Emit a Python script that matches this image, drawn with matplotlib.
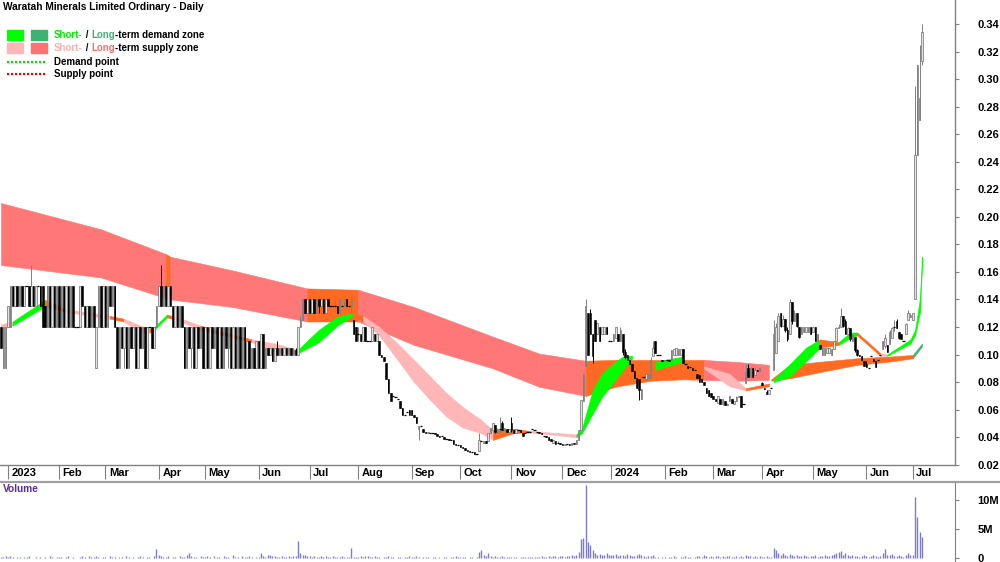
import numpy as np
import matplotlib
matplotlib.use('Agg')
import matplotlib.pyplot as plt
import matplotlib.transforms as mtransforms
from matplotlib.lines import Line2D
from matplotlib.patches import Rectangle

plt.rcParams['font.family'] = ['Liberation Sans', 'DejaVu Sans']

# ---- daily candles, (open, high, low, close) in cents, one list per month ----
dec22 = [(12, 12, 10.5, 10.5), (9, 12, 9, 12), (9, 12, 9, 12)]
jan23 = [(12, 13.5, 12, 13.5), (12, 15, 12, 15), (15, 15, 13.5, 13.5), (13.5, 15, 13.5, 15), (15, 15, 13.5, 13.5),
         (13.5, 15, 13.5, 15), (15, 15, 13.5, 13.5), (13.5, 15, 13.5, 15), (15, 15, 15, 15), (15, 15, 13.5, 13.5),
         (13.5, 16.5, 13.5, 15), (15, 15, 13.5, 13.5), (13.5, 15, 13.5, 15), (15, 15, 15, 15), (15, 15, 13.5, 13.5),
         (15, 15, 12, 12), (13.5, 13.5, 12, 12), (12, 15, 12, 15), (15, 15, 12, 12), (12, 15, 12, 15),
         (15, 15, 12, 12), (12, 15, 12, 15)]
feb23 = [(15, 15, 12, 12), (12, 15, 12, 15), (15, 15, 12, 12), (12, 15, 12, 15), (15, 15, 12, 12),
         (12, 15, 12, 15), (15, 15, 12, 12), (12, 12, 12, 12), (12, 12, 12, 12), (12, 15, 12, 15),
         (15, 15, 13.5, 13.5), (13.5, 13.5, 12, 12), (12, 13.5, 12, 13.5), (13.5, 13.5, 12, 12), (12, 13.5, 12, 13.5),
         (13.5, 13.5, 12, 12), (9, 12, 9, 12), (12, 15, 12, 15), (15, 15, 12, 12), (12, 15, 12, 15)]
mar23 = [(15, 15, 12, 12), (12, 15, 12, 15), (15, 15, 13.5, 13.5), (13.5, 15, 13.5, 15), (15, 15, 12, 12),
         (12, 12, 9, 9), (9, 12, 9, 12), (12, 12, 10.5, 10.5), (10.5, 12, 9, 12), (12, 12, 9, 9),
         (9, 12, 9, 12), (12, 12, 10.5, 10.5), (10.5, 12, 10.5, 12), (12, 12, 9, 9), (9, 12, 9, 12),
         (12, 12, 10.5, 10.5), (10.5, 12, 10.5, 12), (12, 12, 9, 9), (9, 12, 9, 12), (12, 12, 12, 12),
         (12, 12, 10.5, 10.5), (10.5, 12, 10.5, 12), (12, 13.5, 12, 13.5)]
apr23 = [(13.5, 15, 13.5, 15), (15, 16.5, 13.5, 13.5), (13.5, 15, 13.5, 15), (15, 15, 13.5, 13.5), (13.5, 15, 13.5, 15),
         (15, 15, 13.5, 13.5), (13.5, 13.5, 12, 12), (12, 13.5, 12, 13.5), (13.5, 13.5, 12, 12), (12, 13.5, 12, 13.5),
         (13.5, 13.5, 12, 12), (12, 12, 9, 9), (9, 12, 9, 12), (12, 12, 10.5, 10.5), (10.5, 12, 9, 12),
         (12, 12, 9, 9), (9, 12, 9, 12), (12, 12, 10.5, 10.5), (10.5, 12, 10.5, 12), (12, 12, 9, 9)]
may23 = [(9, 12, 9, 12), (12, 12, 9, 9), (9, 12, 9, 12), (12, 12, 10.5, 10.5), (10.5, 12, 10.5, 12),
         (12, 12, 9, 9), (9, 12, 9, 12), (12, 12, 9, 9), (9, 12, 9, 12), (12, 12, 10.5, 10.5),
         (10.5, 12, 9, 12), (12, 12, 9, 9), (9, 12, 9, 12), (12, 12, 9, 9), (9, 12, 9, 12),
         (12, 12, 9, 9), (9, 12, 9, 12), (12, 12, 9, 9), (9, 11, 9, 11), (11, 11, 9, 9),
         (9, 10.5, 9, 10.5), (10.5, 10.5, 9, 9), (9, 11, 9, 11)]
jun23 = [(11, 11, 9, 9), (9, 11.5, 9, 11.5), (11.5, 11.5, 9, 9), (9, 10.5, 9, 10.5), (10.5, 10.5, 10, 10),
         (10, 10.5, 10, 10.5), (10.5, 10.5, 9.5, 9.5), (9.5, 10.5, 9.5, 10.5), (10.5, 11, 10, 10), (10, 10.5, 10, 10.5),
         (10.5, 10.5, 10, 10), (10, 10.5, 10, 10.5), (10.5, 10.5, 10, 10), (10, 10.5, 10, 10.5), (10.5, 10.5, 10, 10),
         (10, 10.5, 10, 10.3), (10.3, 10.5, 10, 10), (10, 12, 10, 12), (12, 12.8, 12, 12.5), (12.5, 14, 12.5, 14),
         (14, 14, 13, 13), (13, 14, 13, 14)]
jul23 = [(14, 14, 13, 13), (13, 14, 13, 14), (14, 14, 13, 13), (13, 14, 13, 14), (14, 14, 13, 13.5),
         (13.5, 14, 13, 14), (14, 14, 13, 13), (13, 14, 13, 14), (14, 14, 13.5, 13.5), (13.5, 13.5, 13.5, 13.5),
         (13.5, 13.5, 13.5, 13.5), (13.5, 14, 13.5, 13.5), (13.5, 13.5, 13, 13), (13, 14, 13, 14), (13.5, 13.5, 13.5, 13.5),
         (13.5, 14, 13.5, 14), (14, 14, 13.5, 13.5), (13.5, 13.5, 13.5, 13.5), (13.5, 14, 13, 14), (12.5, 12.5, 11.5, 11.5),
         (12, 12, 11, 11)]
aug23 = [(11.5, 12, 11, 11.5), (11.5, 11.5, 11, 11), (11, 12, 11, 12), (12, 12, 11, 11), (11, 11, 11, 11),
         (11, 11, 11, 11), (11, 12, 11, 12), (11.5, 11.5, 11, 11), (11, 11.5, 11, 11.5), (11, 11, 10, 10),
         (10, 10, 9.8, 9.8), (9.8, 9.8, 9.5, 9.5), (9.4, 9.4, 8.2, 8.2), (8.2, 8.2, 7.2, 7.2), (7.2, 7.2, 6.6, 6.6),
         (7, 7, 7, 7), (6.9, 6.9, 6.9, 6.9), (6.8, 6.8, 6.8, 6.8), (6.6, 6.6, 6.1, 6.1), (6.1, 6.1, 5.6, 5.6),
         (5.6, 5.6, 5.6, 5.6), (5.8, 5.8, 5.8, 5.8), (6, 6, 5.6, 5.6)]
sep23 = [(6, 6, 5.6, 5.6), (5.6, 5.6, 5.5, 5.5), (5.5, 5.5, 5, 5), (4.6, 4.8, 3.8, 4.8), (4.8, 4.8, 4.8, 4.8),
         (4.6, 4.6, 4.4, 4.4), (4.4, 4.4, 4.3, 4.3), (4.3, 4.4, 4.3, 4.4), (4.3, 4.3, 4.3, 4.3), (4.3, 4.3, 4.3, 4.3),
         (4.3, 4.3, 4.2, 4.2), (4.2, 4.2, 4.1, 4.1), (4.1, 4.1, 4, 4), (4.1, 4.1, 4.1, 4.1), (4, 4, 3.9, 3.9),
         (3.9, 3.9, 3.9, 3.9), (3.9, 3.9, 3.8, 3.8), (3.8, 3.8, 3.8, 3.8), (3.8, 3.8, 3.5, 3.5), (3.5, 3.5, 3.4, 3.4),
         (3.4, 3.4, 3.4, 3.4)]
oct23 = [(3.4, 3.4, 3.3, 3.3), (3.3, 3.3, 3.2, 3.2), (3.2, 3.2, 3.1, 3.1), (3.1, 3.1, 3, 3), (3, 3, 2.9, 2.9),
         (2.9, 2.9, 2.9, 2.9), (2.9, 2.9, 2.8, 2.8), (2.8, 2.8, 2.8, 2.8), (3, 4.3, 3, 3.8), (3.7, 3.7, 3.7, 3.7),
         (3.6, 3.7, 3.6, 3.7), (3.7, 3.7, 3.6, 3.6), (3.7, 4.3, 3.7, 4.3), (4.3, 4.7, 4.3, 4.7), (4.5, 5, 4.5, 5),
         (4.9, 4.9, 4.3, 4.4), (4.4, 4.7, 4.4, 4.6), (4.6, 5.5, 4.4, 4.6), (5, 5.2, 4.5, 4.5), (4.5, 4.7, 4.5, 4.7),
         (4.6, 4.6, 4.4, 4.4), (4.4, 4.6, 4.4, 4.6)]
nov23 = [(5, 5.5, 4.4, 4.5), (4.5, 4.5, 4.3, 4.3), (4.3, 4.6, 4.3, 4.6), (4.5, 4.5, 4.5, 4.5), (4.5, 4.5, 4.4, 4.4),
         (4.3, 4.3, 4.1, 4.1), (4.3, 4.3, 4.3, 4.3), (4.4, 4.4, 4.4, 4.4), (4.4, 4.4, 4.4, 4.4), (4.6, 4.6, 4.6, 4.6),
         (4.5, 4.5, 4.5, 4.5), (4.4, 4.4, 4.4, 4.4), (4.4, 4.4, 4.3, 4.3), (4.3, 4.3, 4.2, 4.2), (4.1, 4.1, 4.1, 4.1),
         (4.1, 4.1, 4, 4), (4, 4, 3.8, 3.8), (3.9, 3.9, 3.7, 3.7), (3.6, 3.8, 3.6, 3.8), (3.7, 3.7, 3.5, 3.5),
         (3.6, 3.7, 3.6, 3.6), (3.6, 3.6, 3.5, 3.5)]
dec23 = [(3.5, 3.5, 3.4, 3.4), (3.4, 3.5, 3.4, 3.5), (3.5, 3.5, 3.5, 3.5), (3.5, 3.5, 3.4, 3.4), (3.4, 3.6, 3.4, 3.6),
         (3.6, 3.6, 3.5, 3.5), (3.5, 3.8, 3.5, 3.8), (3.8, 4.5, 3.8, 4.5), (4.5, 6.7, 4.5, 6.7), (6.6, 8.6, 6.6, 8.6),
         (9.2, 14, 9.2, 13.5), (13, 13, 10, 10), (13, 13.3, 11.5, 11.5), (11.5, 11.5, 9.4, 9.9), (12.5, 12.5, 11, 11),
         (11.5, 12.3, 11.5, 12.3), (12, 12, 11, 11), (11.5, 12, 11.5, 12), (11.5, 12, 11.5, 12), (12, 12, 11.5, 11.5),
         (11, 11, 11, 11)]
jan24 = [(11, 11, 11, 11), (11, 11.5, 11, 11.5), (11.2, 12, 11.2, 12), (11.5, 11.5, 11, 11), (11, 12, 11, 11.8),
         (11.5, 11.5, 10, 10.2), (10.2, 10.4, 9.7, 9.8), (10, 10, 9.6, 9.6), (9.6, 9.6, 9.3, 9.3), (9.3, 9.3, 8.8, 8.8),
         (8.8, 8.8, 8.3, 8.3), (8.3, 8.3, 7.6, 7.6), (8.2, 8.2, 6.7, 7.4), (6.8, 7.5, 6.8, 7.5), (8.4, 8.4, 8.4, 8.4),
         (8.2, 8.6, 8.2, 8.6), (8.3, 8.6, 8.3, 8.5), (8.3, 9.8, 8.2, 9.6), (9.9, 11, 9.9, 10.5), (11, 11, 10.1, 10.1),
         (10, 10, 10, 10), (10, 10, 10, 10), (9.6, 9.6, 9.5, 9.5)]
feb24 = [(9.5, 9.6, 9.5, 9.6), (9.6, 9.6, 9.6, 9.6), (9.6, 9.6, 9.5, 9.5), (9.6, 10.3, 9.6, 10.3), (10, 10.4, 10, 10.4),
         (10, 10.5, 10, 10.5), (10, 10.4, 10, 10.4), (10, 10.4, 10, 10.4), (10.4, 10.4, 9.4, 9.4), (9.3, 9.3, 9.3, 9.3),
         (9.2, 9.2, 9, 9), (9.1, 9.1, 9.1, 9.1), (9, 9, 8.9, 8.9), (8.9, 8.9, 8.9, 8.9), (8.6, 8.6, 8.3, 8.3),
         (8.5, 8.5, 8, 8), (8.2, 8.2, 8, 8), (8, 8, 7.8, 7.8), (7.6, 7.6, 7.2, 7.2), (7.4, 7.4, 7, 7),
         (7.2, 7.2, 6.9, 6.9)]
mar24 = [(7, 7, 6.8, 6.8), (6.8, 6.8, 6.6, 6.6), (6.5, 7, 6.5, 7), (6.8, 6.8, 6.4, 6.4), (6.4, 6.8, 6.3, 6.8),
         (6.6, 6.6, 6.3, 6.3), (6.3, 6.5, 6.3, 6.4), (6.6, 7, 6.6, 7), (6.8, 6.8, 6.5, 6.5), (6.4, 6.6, 6.4, 6.6),
         (6.6, 7, 6.6, 6.9), (6.9, 7, 6.9, 7), (7, 7, 6.2, 6.2), (6.4, 6.4, 6.4, 6.4), (7.9, 9.3, 7.9, 8.7),
         (9, 9.3, 8.4, 8.4), (8.4, 9, 8.4, 9), (9, 9, 8.4, 8.4), (8.5, 9, 8.5, 8.9), (8.9, 8.9, 8.8, 8.8),
         (8.8, 9, 8.8, 9)]
apr24 = [(7.9, 8, 7.8, 7.8), (7.6, 7.6, 7.5, 7.5), (7.3, 7.4, 7.1, 7.1), (7.1, 7.4, 7.1, 7.4), (7.6, 7.6, 7.6, 7.6),
         (8.9, 12.5, 8.9, 11.5), (10.1, 12.3, 10.1, 12), (11, 13, 11, 12.8), (13, 13, 12, 12.1), (12.1, 12.9, 12.1, 12.6),
         (12.6, 12.6, 11.6, 11.8), (11.8, 12, 11, 11.1), (11.5, 14, 11.5, 13.8), (13.8, 13.8, 12.2, 12.4), (12.4, 13.2, 12.4, 13),
         (13, 13, 12, 12.1), (12, 12, 11.2, 11.3), (11.5, 12, 11.5, 12), (11.6, 12, 11.6, 12), (11.6, 12, 11.6, 12),
         (11.6, 12, 11.6, 12), (12, 12, 11.5, 11.5)]
may24 = [(11.6, 12, 11.6, 12), (12, 12, 11, 11), (11, 11.5, 11, 11.5), (10.7, 10.7, 10.4, 10.4), (10, 10.5, 10, 10.5),
         (10, 10.5, 10, 10.5), (10.1, 10.5, 10.1, 10.5), (10.1, 10.5, 10.1, 10.5), (10, 10.4, 10, 10.4), (10.4, 11, 10.4, 11),
         (11, 12, 11, 11.9), (11.9, 12.2, 11.9, 12), (12, 13.4, 12, 12.8), (12.8, 12.8, 12, 12.1), (12.4, 12.6, 11.5, 11.5),
         (11.5, 12, 11.5, 11.9), (11.9, 11.9, 11, 11.1), (11, 11.5, 11, 11.4), (11.3, 11.3, 10.2, 10.3), (10.3, 10.4, 9.9, 10),
         (10, 10, 9.9, 9.9), (9.9, 9.9, 9.6, 9.6), (9.5, 9.5, 9.2, 9.2)]
jun24 = [(9.3, 9.5, 9.1, 9.1), (9, 9, 9, 9), (9.9, 9.9, 9.9, 9.9), (9.7, 9.7, 9.5, 9.5), (9.5, 9.5, 9.1, 9.1),
         (9.6, 9.6, 9.6, 9.6), (10, 10, 10, 10), (10.4, 11, 10.4, 11), (10.6, 11.5, 10.5, 11.2), (10.7, 10.7, 10.2, 10.2),
         (10.8, 11.8, 10.8, 11.6), (11.2, 12, 11.2, 11.9), (12, 12.5, 11.7, 12), (12.4, 12.6, 11.9, 11.9), (11.6, 11.6, 11.1, 11.2),
         (11.5, 11.5, 11.1, 11.1), (11, 11, 11, 11), (11.5, 12.3, 11.5, 12.2), (12.5, 13.2, 12.5, 13), (12.7, 13, 12.7, 12.9)]
jul24 = [(12.5, 13, 12.5, 13), (14, 29.5, 14, 24.5), (24.5, 31, 24.5, 31), (27, 32.5, 27, 28.6), (31.3, 34, 31, 33.4)]

# ---- daily volume in millions, one list per month ----
vol_dec22 = [0.2, 0.1, 0.3]
vol_jan23 = [0.1, 0.3, 0.2, 0, 0.1, 0.2, 0, 0.1, 0.1, 0.3, 0, 0, 0.1, 0, 0.2, 0, 0.1, 0, 0.3, 0.1, 0, 0.1]
vol_feb23 = [0.2, 0.1, 0, 0.1, 0.3, 0, 0.2, 0, 0, 0.1, 0.3, 0.2, 0, 0.4, 0.1, 0.2, 0.3, 0.1, 0, 0.2]
vol_mar23 = [0.1, 0, 0.3, 0.2, 0.1, 0, 0.2, 0.1, 0, 0.3, 0.2, 0, 0.1, 0, 0.2, 0.4, 0.1, 0, 0.2, 0.1, 0, 0.3, 1.5]
vol_apr23 = [0.6, 0.4, 0.2, 0.1, 0.3, 0, 0.1, 0.2, 0, 0.4, 0.2, 0.1, 0.6, 0.8, 0.3, 0.1, 0.2, 0, 0.3, 0.1]
vol_may23 = [0.2, 0.4, 0.1, 0, 0.3, 0.1, 0.2, 0, 0.4, 0.2, 0.1, 0, 0.5, 0.2, 0.1, 0, 0.3, 0.2, 0.1, 0.4, 0.1, 0, 0.2]
vol_jun23 = [0.1, 0.9, 0.4, 0.2, 0.6, 0.5, 0.3, 0.4, 0.2, 0.1, 0.3, 0.2, 0.1, 0.3, 0.2, 0.4, 0.3, 3.0, 0.8, 0.5, 0.6, 0.3]
vol_jul23 = [0.4, 0.2, 0.3, 0.2, 0.1, 0.3, 0.2, 0.4, 0.1, 0.2, 0.3, 0.1, 0.2, 0.1, 0.3, 0.2, 0.1, 0.2, 1.8, 0.2, 0.1]
vol_aug23 = [0.1, 0.3, 0.2, 0.4, 0.3, 0.1, 0.2, 0.3, 0.2, 0.1, 0, 0.2, 0.1, 0.3, 0.2, 0.1, 0, 0.2, 0.1, 0, 0.2, 0.1, 0.3]
vol_sep23 = [0.2, 0.1, 0.3, 0.2, 0, 0.1, 0.2, 0.1, 0, 0.1, 0.2, 0, 0.1, 0, 0.2, 0.1, 0, 0.1, 0.2, 0.3, 0.1]
vol_oct23 = [0.2, 0.1, 0.2, 0, 0.1, 0.1, 0, 0.2, 1.0, 1.4, 0.5, 0.3, 0.9, 0.4, 0.2, 0.3, 0.1, 0.2, 0.3, 0.1, 0.2, 0.1]
vol_nov23 = [0.1, 0.2, 0.1, 0, 0.1, 0.2, 0.1, 0.2, 0.2, 0.1, 0.2, 0.1, 0.2, 0.3, 0.2, 0.2, 0.3, 0.2, 0.4, 0.3, 0.2, 0.3]
vol_dec23 = [0.3, 0.2, 0.4, 0.3, 0.5, 0.4, 0.6, 1.0, 3.3, 3.5, 12.5, 2.8, 2.2, 1.3, 0.8, 0.6, 0.7, 0.5, 0.6, 0.8, 0.5]
vol_jan24 = [0.6, 0.5, 0.7, 0.4, 0.6, 0.5, 0.3, 0.7, 0.5, 0.4, 0.3, 0.6, 0.7, 0.5, 0.3, 0.2, 0.4, 0.3, 0.5, 0.2, 0.1, 0, 0.2]
vol_feb24 = [0.1, 0, 0.2, 0.1, 0.3, 0.1, 0, 0.2, 0.1, 0.3, 0.1, 0.2, 0, 0.1, 0.3, 0.4, 0.2, 0.5, 0.3, 0.2, 0.4]
vol_mar24 = [0.2, 0.3, 0.4, 0.2, 0.3, 0.2, 0.4, 0.3, 0.2, 0.1, 0.3, 0.2, 0.4, 0.1, 0.5, 0.4, 0.3, 0.2, 0.3, 0.2, 0.4]
vol_apr24 = [0.2, 0.1, 0.3, 0.2, 0.1, 1.8, 1.3, 0.9, 0.6, 0.8, 0.5, 0.4, 0.7, 0.5, 0.3, 0.6, 0.4, 0.3, 0.5, 0.3, 0.2, 0.4]
vol_may24 = [0.3, 0.5, 0.2, 0.4, 0.3, 0.6, 0.4, 0.3, 0.5, 0.7, 0.8, 1.0, 1.2, 0.6, 0.9, 0.5, 0.4, 0.6, 0.3, 0.4, 0.2, 0.3, 0.5]
vol_jun24 = [0.4, 0.2, 0.3, 0.5, 0.3, 0.2, 0.4, 0.9, 1.6, 0.6, 0.5, 0.7, 0.4, 0.3, 0.6, 0.3, 0.2, 0.5, 0.8, 0.6]
vol_jul24 = [0.5, 10.5, 7.1, 4.4, 3.6]

month_labels = ['2023', 'Feb', 'Mar', 'Apr', 'May', 'Jun', 'Jul', 'Aug', 'Sep', 'Oct', 'Nov', 'Dec',
                '2024', 'Feb', 'Mar', 'Apr', 'May', 'Jun', 'Jul']

# ---- zones, read at sample days (bar index), prices in $ ----
# codes per interval: r = long-term supply, o = overlap, p = short-term supply,
# g = short-term demand, G = long-term demand, - = nothing
long_day = [0, 43, 71, 73, 100, 132, 154, 178, 212, 232, 252, 265, 280, 294, 303, 318, 331, 332,
            340, 354, 369, 383, 393, 397]
long_top = [.210, .191, .173, .171, .161, .148, .147, .1345, .113, .1007, .0955, .0961, .0961, .0961,
            .0961, .0945, .0925, .082, .0925, .0949, .0973, .0985, .0997, .108]
long_bot = [.165, .156, .141, .140, .1345, .124, .124, .107, .090, .0766, .070, .0767, .081, .082,
            .0816, .081, .0816, .081, .0828, .0876, .0925, .0949, .0973, .106]
long_code = 'rrorrorrrroooorr-oooooG'

short_day = [0, 5, 19, 28, 47, 53, 60, 64, 65.5, 71.5, 76, 86, 108, 118, 128, 137, 145, 151.5, 156, 163,
             171, 178, 185, 192, 199, 207, 212, 221, 228, 248, 250.5, 255, 259, 265, 268, 272, 282, 294,
             303, 314, 321, 331, 333, 340, 347, 353, 361, 366, 369, 379, 382, 392, 394, 396, 397]
short_top = [.122, .124, .1396, .133, .128, .126, .121, .119, .119, .129, .127, .121, .111, .108, .1035,
             .118, .1275, .130, .128, .120, .108, .096, .084, .072, .062, .0525, .045, .046, .0445, .042,
             .047, .074, .086, .095, .0985, .099, .0949, .0985, .0914, .086, .0755, .079, .082, .093, .105,
             .111, .109, .116, .116, .101, .100, .111, .118, .140, .171]
short_bot = [.118, .121, .1348, .131, .126, .124, .116, .116, .117, .127, .125, .118, .109, .102, .101,
             .109, .121, .128, .124, .114, .096, .080, .067, .055, .047, .043, .038, .043, .0435, .040,
             .043, .057, .069, .082, .0885, .097, .0889, .0949, .090, .077, .074, .077, .080, .084, .095,
             .105, .107, .112, .114, .099, .099, .108, .114, .130, .164]
short_code = 'pgopoppogopoppgggoppppppppoopgggggg-g-ppo-gggoggopgggg'

ZONE_COLORS = {'r': '#ff7777', 'o': '#ff6a22', 'p': '#ffb6b6', 'g': '#00ff00', 'G': '#3cb371'}


def draw_zone(ax, days, top, bot, codes, z):
    for k, code in enumerate(codes):
        if code == '-':
            continue
        col = ZONE_COLORS[code]
        ax.fill_between(days[k:k + 2], top[k:k + 2], bot[k:k + 2], facecolor=col,
                        edgecolor=col, linewidth=0.4, zorder=z)


def fig_xy(x, y):
    # pixel position (from top-left) to figure fraction
    return x / 1000, 1 - y / 562


def text_run(fig, x, y, pieces, size=7.0):
    renderer = fig.canvas.get_renderer()
    fx, fy = fig_xy(x, y)
    for s, col in pieces:
        t = fig.text(fx, fy, s, color=col, fontsize=size, fontweight='bold', va='center', ha='left')
        bb = t.get_window_extent(renderer)
        fx = bb.x1 / fig.bbox.width


def main():
    months = [dec22, jan23, feb23, mar23, apr23, may23, jun23, jul23, aug23, sep23, oct23, nov23,
              dec23, jan24, feb24, mar24, apr24, may24, jun24, jul24]
    vol_months = [vol_dec22, vol_jan23, vol_feb23, vol_mar23, vol_apr23, vol_may23, vol_jun23, vol_jul23,
                  vol_aug23, vol_sep23, vol_oct23, vol_nov23, vol_dec23, vol_jan24, vol_feb24, vol_mar24,
                  vol_apr24, vol_may24, vol_jun24, vol_jul24]
    for m, v in zip(months, vol_months):
        assert len(m) == len(v)

    ohlc = np.array([row for m in months for row in m], dtype=float) / 100
    vol = np.array([v for m in vol_months for v in m])
    o, h, l, c = ohlc.T
    x = np.arange(len(ohlc))
    month_starts = np.cumsum([len(m) for m in months])[:-1]

    fig = plt.figure(figsize=(10, 5.62), dpi=100)
    ax = fig.add_axes([0, 1 - 465 / 562, 0.955, 465 / 562])
    axv = fig.add_axes([0, 0, 0.955, 79 / 562])

    # zones
    draw_zone(ax, long_day, long_top, long_bot, long_code, 1)
    draw_zone(ax, short_day, short_top, short_bot, short_code, 2)

    # candles
    up = c > o
    down = c < o
    flat = c == o
    ax.vlines(x[~down], l[~down], h[~down], color='#808080', lw=0.7, zorder=3)
    ax.vlines(x[down], l[down], h[down], color='black', lw=0.7, zorder=3)
    ax.bar(x[up], (c - o)[up], bottom=o[up], width=0.65, color='#e2e2e2', edgecolor='#6e6e6e',
           linewidth=0.5, zorder=4)
    ax.bar(x[down], (o - c)[down], bottom=c[down], width=0.65, color='black', edgecolor='black',
           linewidth=0.4, zorder=4)
    ax.hlines(o[flat], x[flat] - 0.5, x[flat] + 0.5, color='black', lw=0.9, zorder=4)

    xmin, xmax = -0.43, 411.2
    ax.set_xlim(xmin, xmax)
    ax.set_ylim(0.0198, 0.3574)
    for s in ['left', 'top']:
        ax.spines[s].set_visible(False)
    for s in ['right', 'bottom']:
        ax.spines[s].set_color('#808080')
        ax.spines[s].set_linewidth(1)

    ax.yaxis.tick_right()
    ax.set_yticks(np.arange(0.02, 0.345, 0.02))
    ax.set_yticklabels(['%.2f' % v for v in np.arange(0.02, 0.345, 0.02)])
    ax.tick_params(axis='y', length=3, pad=13, color='#808080', labelsize=8)
    for lab in ax.get_yticklabels():
        lab.set_fontweight('bold')

    ax.set_xticks(month_starts)
    ax.set_xticklabels(month_labels)
    ax.tick_params(axis='x', length=10, pad=-8, color='#808080', labelsize=8)
    offset = mtransforms.ScaledTranslation(2.5 / 72, 0, fig.dpi_scale_trans)
    for lab in ax.get_xticklabels():
        lab.set_horizontalalignment('left')
        lab.set_fontweight('bold')
        lab.set_transform(lab.get_transform() + offset)

    # volume
    axv.vlines(x, 0, vol, color='#7b7bd0', lw=1.0)
    axv.set_xlim(xmin, xmax)
    axv.set_ylim(-0.69, 12.93)
    for s in ['left', 'top', 'bottom']:
        axv.spines[s].set_visible(False)
    axv.spines['right'].set_color('#808080')
    axv.set_xticks([])
    axv.yaxis.tick_right()
    axv.set_yticks([0, 5, 10])
    axv.set_yticklabels(['0', '5M', '10M'])
    axv.tick_params(axis='y', length=3, pad=13, color='#808080', labelsize=8)
    for lab in axv.get_yticklabels():
        lab.set_fontweight('bold')
    fig.text(*fig_xy(3, 489), 'Volume', color='#5b2ca0', fontsize=7.3, fontweight='bold',
             va='center', ha='left')

    # panel separator
    fig.add_artist(Line2D([0, 1], [1 - 482 / 562] * 2, color='#a0a0a0', lw=1.6))

    # title and legend
    fig.text(*fig_xy(3, 7), 'Waratah Minerals Limited Ordinary - Daily', fontsize=7.3,
             fontweight='bold', va='center', ha='left')
    for (x0, col) in [(7, '#00ff00'), (31, '#3cb371')]:
        fig.add_artist(Rectangle(fig_xy(x0, 40), 16 / 1000, 10 / 562, color=col))
    for (x0, col) in [(7, '#ffb6b6'), (31, '#ff7070')]:
        fig.add_artist(Rectangle(fig_xy(x0, 53), 16 / 1000, 10 / 562, color=col))
    fig.add_artist(Line2D([7 / 1000, 47 / 1000], [1 - 62 / 562] * 2, color='#00dd00', lw=1.6,
                          linestyle=(0, (1, 0.8))))
    fig.add_artist(Line2D([7 / 1000, 47 / 1000], [1 - 74 / 562] * 2, color='#ee0000', lw=1.6,
                          linestyle=(0, (1, 0.8))))
    text_run(fig, 54, 35, [('Short-', '#00ee00'), (' / ', 'black'), ('Long', '#3cb371'),
                           ('-term demand zone', 'black')])
    text_run(fig, 54, 48, [('Short-', '#ffb0b0'), (' / ', 'black'), ('Long', '#ff6e6e'),
                           ('-term supply zone', 'black')])
    text_run(fig, 54, 62, [('Demand point', 'black')])
    text_run(fig, 54, 74, [('Supply point', 'black')])

    fig.savefig('out.png', dpi=100)


if __name__ == '__main__':
    main()
